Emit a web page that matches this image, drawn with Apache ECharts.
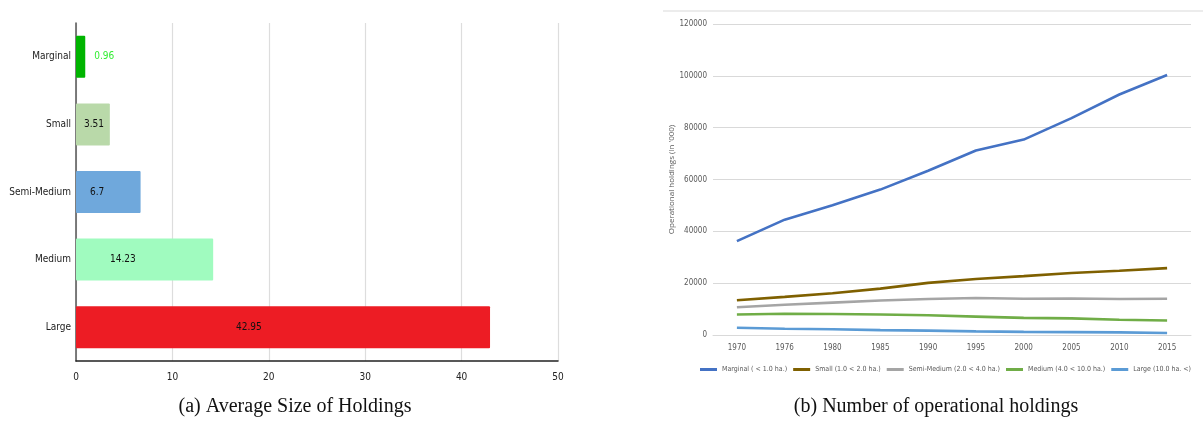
<!DOCTYPE html>
<html>
<head>
<meta charset="utf-8">
<script src="https://cdn.jsdelivr.net/npm/echarts@6/dist/echarts.min.js"></script>
<style>
  html, body { margin: 0; padding: 0; background: #fff; }
  #chart { width: 1203px; height: 427px; }
</style>
</head>
<body>
<div id="chart"></div>
<script>
// (a) average size of holdings (ha.)
const sizeCategories = ['Marginal', 'Small', 'Semi-Medium', 'Medium', 'Large']
const sizeValues = [0.96, 3.51, 6.7, 14.23, 42.95]

// (b) number of operational holdings (in '000)
const years = ['1970', '1976', '1980', '1985', '1990', '1995', '2000', '2005', '2010', '2015']
const holdingNames = ['Marginal ( < 1.0 ha.)', 'Small (1.0 < 2.0 ha.)', 'Semi-Medium (2.0 < 4.0 ha.)', 'Medium (4.0 < 10.0 ha.)', 'Large (10.0 ha. <)']
const marginal = [36200, 44500, 50100, 56100, 63400, 71200, 75400, 83700, 92800, 100300]
const small = [13400, 14700, 16100, 17900, 20100, 21600, 22700, 23900, 24800, 25800]
const semiMedium = [10700, 11700, 12500, 13300, 13900, 14300, 14000, 14100, 13900, 14000]
const medium = [7900, 8200, 8100, 7900, 7600, 7100, 6600, 6400, 5900, 5600]
const large = [2800, 2400, 2200, 1900, 1700, 1400, 1200, 1100, 1000, 800]
const holdingSeries = [marginal, small, semiMedium, medium, large]

// styling
const barColors = ['#00b400', '#b9d9a9', '#6fa8dc', '#a0fbbf', '#ed1c24']
const barLabelStyles = [
  { position: 'right', distance: 9, color: '#33ee33' },
  { position: [8, '50%'], align: 'left', verticalAlign: 'middle' },
  { position: [14, '50%'], align: 'left', verticalAlign: 'middle' },
  { position: [34, '50%'], align: 'left', verticalAlign: 'middle' },
  { position: [160, '50%'], align: 'left', verticalAlign: 'middle' },
]
const lineColors = ['#4472c4', '#7f6000', '#a5a5a5', '#70ad47', '#5b9bd5']

const narrow = "'DejaVu Sans Condensed', 'Liberation Sans', sans-serif"

const chart = echarts.init(document.getElementById('chart'))

chart.setOption({
  animation: false,
  title: [
    {
      text: '(a) Average Size of Holdings',
      left: 290, top: 392, textAlign: 'center',
      textStyle: { fontFamily: "'Liberation Serif', 'DejaVu Serif', serif", fontWeight: 'normal', fontSize: 20, color: '#111' },
    },
    {
      text: '(b) Number of operational holdings',
      left: 931, top: 392, textAlign: 'center',
      textStyle: { fontFamily: "'Liberation Serif', 'DejaVu Serif', serif", fontWeight: 'normal', fontSize: 20, color: '#111' },
    },
  ],
  graphic: [{
    type: 'line',
    shape: { x1: 663, y1: 11, x2: 1203, y2: 11 },
    style: { stroke: '#d9d9d9', lineWidth: 1 },
  }],
  legend: {
    data: holdingNames,
    left: 700, top: 366, padding: 0,
    icon: 'rect', itemWidth: 17, itemHeight: 3, itemGap: 6,
    textStyle: { fontSize: 7, color: '#595959', fontFamily: narrow },
  },
  grid: [
    { left: 76, right: 645, top: 23, height: 338 },
    { left: 713, right: 12, top: 24, height: 311 },
  ],
  xAxis: [
    {
      gridIndex: 0, type: 'value', min: 0, max: 50, interval: 10,
      axisLine: { show: true, lineStyle: { color: '#222', width: 1.5 } },
      axisTick: { show: false },
      axisLabel: { color: '#222', fontSize: 10, fontFamily: narrow, margin: 11 },
      splitLine: { show: true, lineStyle: { color: '#dddddd', width: 1.2 } },
    },
    {
      gridIndex: 1, type: 'category', data: years, boundaryGap: true,
      axisLine: { show: true, lineStyle: { color: '#d9d9d9' } },
      axisTick: { show: false },
      axisLabel: { color: '#595959', fontSize: 8, fontFamily: narrow, margin: 9 },
    },
  ],
  yAxis: [
    {
      gridIndex: 0, type: 'category', data: sizeCategories, inverse: true,
      axisLine: { show: true, lineStyle: { color: '#555', width: 1.5 } },
      axisTick: { show: false },
      axisLabel: { color: '#222', fontSize: 10, fontFamily: narrow, margin: 5 },
    },
    {
      gridIndex: 1, type: 'value', min: 0, max: 120000, interval: 20000,
      name: "Operational holdings (in '000)", nameLocation: 'middle', nameGap: 32,
      nameTextStyle: { fontSize: 8, color: '#595959', fontFamily: "'Open Sans', sans-serif" },
      axisLine: { show: false },
      axisTick: { show: false },
      axisLabel: { color: '#595959', fontSize: 8, fontFamily: narrow, margin: 6, formatter: (v) => String(v) },
      splitLine: { lineStyle: { color: '#d9d9d9' } },
    },
  ],
  series: [
    {
      type: 'bar', xAxisIndex: 0, yAxisIndex: 0,
      barWidth: 42,
      data: sizeValues.map((v, i) => ({
        value: v,
        itemStyle: { color: barColors[i] },
        label: barLabelStyles[i],
      })),
      itemStyle: { borderRadius: 1 },
      label: { show: true, fontSize: 10, fontFamily: narrow, color: '#111' },
    },
    ...holdingSeries.map((values, i) => ({
      type: 'line', name: holdingNames[i], xAxisIndex: 1, yAxisIndex: 1,
      data: values,
      showSymbol: false, symbol: 'none',
      lineStyle: { color: lineColors[i], width: 2.6 },
      itemStyle: { color: lineColors[i] },
    })),
  ],
})
</script>
</body>
</html>
